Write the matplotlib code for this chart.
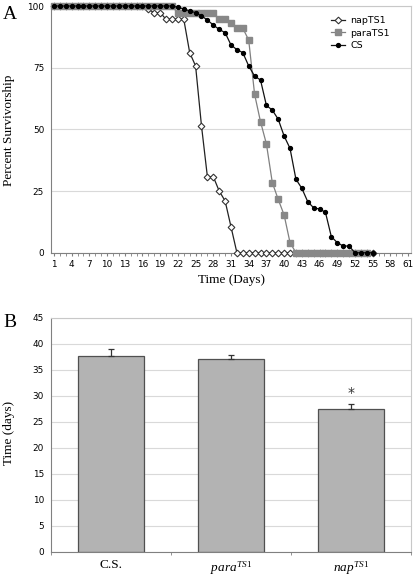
import matplotlib
matplotlib.use("Agg")
import matplotlib.pyplot as plt
import numpy as np

plt.rcParams['mathtext.fontset'] = 'custom'
plt.rcParams['mathtext.rm'] = 'Liberation Serif'
plt.rcParams['mathtext.it'] = 'Liberation Serif:italic'

# Panel A: survivorship (%) per day
tick_days = list(range(1, 62, 3))

nap_days = list(range(1, 56))
nap_ts1 = [100, 100, 100, 100, 100, 100, 100, 100, 100, 100,
           100, 100, 100, 100, 100, 100, 98.6, 97.3, 97.3, 94.6,
           94.6, 94.6, 94.6, 81.1, 75.7, 51.4, 30.8, 30.8, 25.0, 21.0,
           10.5, 0, 0, 0, 0, 0, 0, 0, 0, 0,
           0, 0, 0, 0, 0, 0, 0, 0, 0, 0,
           0, 0, 0, 0, 0]

para_days = list(range(1, 55))
para_ts1 = [100, 100, 100, 100, 100, 100, 100, 100, 100, 100,
            100, 100, 100, 100, 100, 100, 100, 100, 100, 100,
            100, 97, 97, 97, 97, 97, 97, 97, 94.6, 94.6,
            93.2, 91, 91, 86.2, 64.2, 53.1, 44.1, 28.4, 21.6, 15.3,
            4.1, 0, 0, 0, 0, 0, 0, 0, 0, 0,
            0, 0, 0, 0]

cs_days = list(range(1, 56))
cs = [100, 100, 100, 100, 100, 100, 100, 100, 100, 100,
      100, 100, 100, 100, 100, 100, 100, 100, 100, 100,
      100, 99.5, 98.8, 98.0, 97.3, 96.0, 94.3, 92.3, 90.5, 89.2,
      84.2, 82.3, 81.1, 75.7, 71.6, 70.0, 59.7, 57.8, 54.1, 47.3,
      42.3, 29.8, 26.1, 20.7, 18.2, 17.7, 16.4, 6.5, 4.1, 2.7,
      2.7, 0, 0, 0, 0]

# Panel B: mean lifespan
strains = [r'C.S.', r'$\mathit{para}^{\mathit{TS1}}$', r'$\mathit{nap}^{\mathit{TS1}}$']
mean_days = [37.7, 37.0, 27.4]
err_days = [1.2, 0.9, 1.0]

serif = 'Liberation Serif'
grid_c = '#d9d9d9'
frame_c = '#c8c8c8'
axis_c = '#808080'

fig = plt.figure(figsize=(4.15, 5.77), dpi=100)

# ---- A ----
ax1 = fig.add_axes([51/415, 1 - 252.7/577, 360/415, 246.7/577])
ax1.plot(nap_days, nap_ts1, color='#222222', lw=0.9, marker='D', ms=3.4,
         mfc='white', mec='#333333', mew=0.8, label='napTS1', clip_on=False, zorder=3)
ax1.plot(para_days, para_ts1, color='#808080', lw=0.9, marker='s', ms=4.0,
         mfc='#888888', mec='#888888', label='paraTS1', clip_on=False, zorder=4)
ax1.plot(cs_days, cs, color='#111111', lw=0.9, marker='o', ms=2.8,
         mfc='black', mec='black', label='CS', clip_on=False, zorder=5)

ax1.set_xlim(0.5, 61.5)
ax1.set_ylim(0, 100)
ax1.set_yticks([0, 25, 50, 75, 100])
ax1.set_xticks(tick_days)
ax1.set_xticks(range(1, 62), minor=True)
ax1.yaxis.grid(True, color=grid_c, lw=0.8)
ax1.set_axisbelow(True)
ax1.tick_params(axis='y', length=0, labelsize=6.4, pad=5)
ax1.tick_params(axis='x', which='major', length=2.5, color=axis_c, labelsize=6.4, pad=3)
ax1.tick_params(axis='x', which='minor', length=2.5, color=axis_c)
for s in ['top', 'right']:
    ax1.spines[s].set_color(frame_c)
for s in ['left', 'bottom']:
    ax1.spines[s].set_color(axis_c)
ax1.set_xlabel('Time (Days)', fontfamily=serif, fontsize=9.5, labelpad=3)
fig.text(9/415, 1 - 130/577, 'Percent Survivorship', fontfamily=serif, fontsize=9.5,
         rotation=90, ha='center', va='center')
ax1.legend(loc='upper left', bbox_to_anchor=(0.76, 0.985), frameon=False,
           fontsize=6.8, handlelength=1.5, handletextpad=0.5, labelspacing=0.35,
           borderpad=0.2)
fig.text(3/415, 1 - 19/577, 'A', fontfamily=serif, fontsize=14)

# ---- B ----
ax2 = fig.add_axes([51/415, 1 - 551.7/577, 360/415, 234/577])
x = np.arange(len(strains))
ax2.bar(x, mean_days, width=0.555, color='#b3b3b3', edgecolor='#505050', lw=0.9, zorder=2)
ax2.errorbar(x, mean_days, yerr=[[0, 0, 0], err_days], fmt='none', ecolor='#333333',
             elinewidth=0.9, capsize=2.5, capthick=0.9, zorder=3)
ax2.text(x[2], mean_days[2] + 3.2, '*', ha='center', va='center', fontsize=10, color='#333333')
ax2.set_xlim(-0.5, 2.5)
ax2.set_ylim(0, 45)
ax2.set_yticks(range(0, 46, 5))
ax2.set_xticks(x)
ax2.set_xticklabels(strains, fontfamily=serif, fontsize=9.5)
ax2.set_xticks([-0.5, 0.5, 1.5, 2.5], minor=True)
ax2.tick_params(axis='x', which='major', length=0, pad=5.5)
ax2.tick_params(axis='x', which='minor', length=2.5, color=axis_c)
ax2.tick_params(axis='y', length=0, labelsize=6.4, pad=5)
ax2.yaxis.grid(True, color=grid_c, lw=0.8)
ax2.set_axisbelow(True)
for s in ['top', 'right']:
    ax2.spines[s].set_color(frame_c)
for s in ['left', 'bottom']:
    ax2.spines[s].set_color(axis_c)
fig.text(9/415, 1 - 433/577, 'Time (days)', fontfamily=serif, fontsize=9.5,
         rotation=90, ha='center', va='center')
fig.text(3/415, 1 - 327/577, 'B', fontfamily=serif, fontsize=14)

fig.savefig('out.png', dpi=100)
